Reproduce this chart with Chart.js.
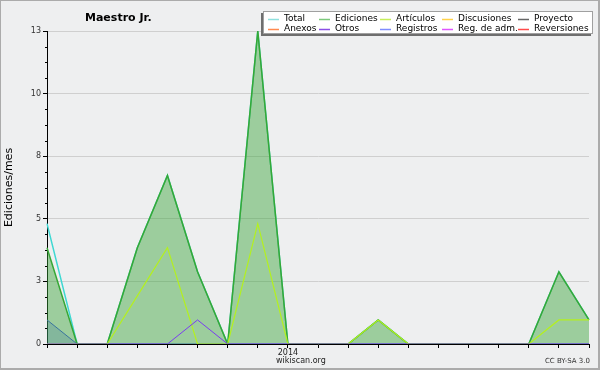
<!DOCTYPE html>
<html>
<head>
<meta charset="utf-8">
<script src="https://cdn.jsdelivr.net/npm/chart.js@4/dist/chart.umd.min.js"></script>
<style>
  html, body { margin: 0; padding: 0; background: #eeeff0; }
  #wrap { position: relative; width: 600px; height: 370px; }
</style>
</head>
<body>
<div id="wrap"><canvas id="chartEditions"></canvas></div>
<script>
// ===== Données (mois mai 2013 -> nov 2014) =====
const months = ['2013-05','2013-06','2013-07','2013-08','2013-09','2013-10','2013-11','2013-12',
                '2014-01','2014-02','2014-03','2014-04','2014-05','2014-06','2014-07','2014-08',
                '2014-09','2014-10','2014-11'];
const totalData      = [5,0,0,4,7,3,0,13,0,0,0,1,0,0,0,0,0,3,1];
const edicionesData  = [4,0,0,4,7,3,0,13,0,0,0,1,0,0,0,0,0,3,1];
const articulosData  = [0,0,0,2,4,0,0,5,0,0,0,1,0,0,0,0,0,1,1];
const otrosData      = [0,0,0,0,0,1,0,0,0,0,0,0,0,0,0,0,0,0,0];
const registrosData  = [1,0,0,0,0,0,0,0,0,0,0,0,0,0,0,0,0,0,0];
const yTicks = [0, 2.6, 5.2, 7.8, 10.4, 13];

const legendNames  = ['Total','Ediciones','Artículos','Discusiones','Proyecto',
                      'Anexos','Otros','Registros','Reg. de adm.','Reversiones'];
const legendColors = ['#8fe0de','#7cc97c','#c6ee5a','#ffd24a','#666666',
                      '#ff8a50','#8a4fe6','#7f8cff','#df55ff','#ff4a4a'];

(function() {
    'use strict';

    const BG = '#eeeff0';

    // fond + cadre
    const backgroundPlugin = {
        id: 'background',
        beforeDraw(chart) {
            const c = chart.ctx;
            c.save();
            c.fillStyle = BG;
            c.fillRect(0, 0, chart.width, chart.height);
            c.restore();
        },
        afterDraw(chart) {
            const c = chart.ctx;
            c.save();
            c.fillStyle = '#ababab';
            c.fillRect(0, 0, chart.width, 1);
            c.fillRect(0, 0, 1, chart.height);
            c.fillRect(chart.width - 2, 0, 2, chart.height);
            c.fillRect(0, chart.height - 2, chart.width, 2);
            c.restore();
        }
    };

    // petites graduations de l'axe Y
    const minorTicksPlugin = {
        id: 'minorTicks',
        afterDraw(chart) {
            const y = chart.scales.y;
            const c = chart.ctx;
            c.save();
            c.strokeStyle = '#000';
            c.lineWidth = 1;
            for (let i = 0; i <= 20; i++) {
                if (i % 4 === 0) continue;
                const py = Math.round(y.getPixelForValue(i * 0.65)) + 0.5;
                c.beginPath();
                c.moveTo(y.right - 2, py);
                c.lineTo(y.right, py);
                c.stroke();
            }
            c.restore();
        }
    };

    // titre, légende, mentions
    const textPlugin = {
        id: 'texts',
        afterDraw(chart) {
            const c = chart.ctx;
            c.save();
            c.fillStyle = '#000';
            c.textBaseline = 'alphabetic';
            c.font = 'bold 11px "DejaVu Sans"';
            c.fillText('Maestro Jr.', 85, 21);

            // légende
            const bx = 263, by = 11, bw = 330, bh = 23;
            c.fillStyle = '#6e6e6e';
            c.fillRect(bx - 2, by + 2, bw, bh);
            c.fillStyle = '#ffffff';
            c.fillRect(bx, by, bw, bh);
            c.strokeStyle = '#a0a0a0';
            c.lineWidth = 1;
            c.strokeRect(bx + 0.5, by + 0.5, bw - 1, bh - 1);

            const colX = [268, 319, 380, 442, 518];
            const rowY = [19, 29];
            c.font = '9px "DejaVu Sans"';
            c.textBaseline = 'middle';
            legendNames.forEach((name, i) => {
                const x = colX[i % 5];
                const yy = rowY[Math.floor(i / 5)];
                c.strokeStyle = legendColors[i];
                c.lineWidth = 1.5;
                c.beginPath();
                c.moveTo(x, yy + 0.5);
                c.lineTo(x + 11, yy + 0.5);
                c.stroke();
                c.fillStyle = '#000';
                c.fillText(name, x + 16, yy);
            });

            c.fillStyle = '#222';
            c.font = '8px "DejaVu Sans"';
            c.fillText('wikiscan.org', 276, 361);
            c.font = '7px "DejaVu Sans"';
            c.textAlign = 'right';
            c.fillStyle = '#333';
            c.fillText('CC BY-SA 3.0', 590, 361);
            c.restore();
        }
    };

    const ctx = document.getElementById('chartEditions');
    new Chart(ctx, {
        type: 'line',
        data: {
            labels: months,
            datasets: [
                {
                    label: 'Otros',
                    data: otrosData,
                    borderColor: '#7a3cf0',
                    borderWidth: 1,
                    fill: false
                },
                {
                    label: 'Artículos',
                    data: articulosData,
                    borderColor: '#b4f01e',
                    borderWidth: 1.2,
                    fill: false
                },
                {
                    label: 'Ediciones',
                    data: edicionesData,
                    borderColor: '#36a836',
                    backgroundColor: 'rgba(55,165,55,0.45)',
                    borderWidth: 1.5,
                    fill: 'origin'
                },
                {
                    label: 'Registros',
                    data: registrosData,
                    borderColor: '#3a4cf0',
                    backgroundColor: 'rgba(40,60,230,0.22)',
                    borderWidth: 1,
                    fill: 'origin'
                },
                {
                    label: 'Total',
                    data: totalData,
                    borderColor: '#3fd8d2',
                    borderWidth: 1.5,
                    fill: false
                }
            ]
        },
        options: {
            responsive: true,
            maintainAspectRatio: false,
            animation: false,
            elements: { point: { radius: 0 }, line: { tension: 0 } },
            layout: { padding: { top: 31, right: 11, left: 0, bottom: 0 } },
            plugins: {
                legend: { display: false },
                tooltip: { enabled: false }
            },
            scales: {
                x: {
                    z: 1,
                    offset: false,
                    grid: { drawOnChartArea: false, drawTicks: true, tickLength: 4, tickColor: '#000' },
                    border: { color: '#000', width: 1 },
                    ticks: {
                        autoSkip: false,
                        maxRotation: 0,
                        padding: 0,
                        color: '#222',
                        font: { family: 'DejaVu Sans', size: 8 },
                        callback: function(value) {
                            const m = this.getLabelForValue(value);
                            return m.endsWith('-01') ? m.slice(0, 4) : '';
                        }
                    },
                    afterFit: (s) => { s.height = 26; }
                },
                y: {
                    min: 0,
                    max: 13,
                    afterBuildTicks: (s) => { s.ticks = yTicks.map(v => ({ value: v })); },
                    grid: { color: '#cfcfcf', tickLength: 4, tickColor: '#000' },
                    border: { color: '#000', width: 1 },
                    ticks: {
                        padding: 2,
                        color: '#333',
                        font: { family: 'DejaVu Sans', size: 8 },
                        callback: (value) => Math.round(value)
                    },
                    title: {
                        display: true,
                        text: 'Ediciones/mes',
                        color: '#000',
                        font: { family: 'DejaVu Sans', size: 11 },
                        padding: { top: 3, bottom: 0 }
                    },
                    afterFit: (s) => { s.width = 47; }
                }
            }
        },
        plugins: [backgroundPlugin, minorTicksPlugin, textPlugin]
    });
})();
</script>
</body>
</html>
